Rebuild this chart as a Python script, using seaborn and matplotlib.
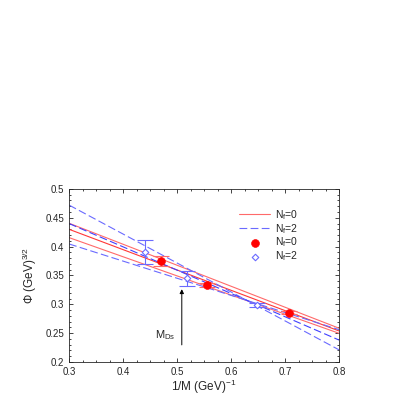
import numpy as np
import seaborn as sns
import matplotlib.pyplot as plt
from matplotlib.ticker import MultipleLocator

# fit bands: value at x=0.3 and x=0.8
fit_x = [0.3, 0.8]
nf0_fit = [[0.4405, 0.2585], [0.430, 0.2538], [0.4156, 0.2497]]
nf2_fit = [[0.472, 0.221], [0.440, 0.238], [0.4046, 0.256]]

# data points
nf0_x = [0.470, 0.556, 0.708]
nf0_y = [0.375, 0.3335, 0.2855]
nf0_err = [0.009, 0.004, 0.003]

nf2_x = [0.441, 0.519, 0.6475]
nf2_y = [0.391, 0.345, 0.299]
nf2_err = [0.021, 0.0135, 0.004]

sns.set_style("ticks")
plt.rcParams['font.family'] = ['Liberation Sans', 'DejaVu Sans']
plt.rcParams['mathtext.fontset'] = 'custom'
plt.rcParams['mathtext.rm'] = 'Liberation Sans'
plt.rcParams['mathtext.it'] = 'Liberation Sans'

fig = plt.figure(figsize=(4.09, 4.09), dpi=100)
ax = fig.add_axes([0.169, 0.115, 0.660, 0.423])

red = '#ff6a6a'
blue = '#6a6aff'
for i, f in enumerate(nf0_fit):
    sns.lineplot(x=fit_x, y=f, ax=ax, color=red if i != 1 else '#ff3838', lw=0.8,
                 label=r'N$_\mathregular{f}$=0' if i == 0 else None)
for i, f in enumerate(nf2_fit):
    sns.lineplot(x=fit_x, y=f, ax=ax, color=blue if i != 1 else '#4040ff', lw=0.8,
                 linestyle=(0, (7, 3)),
                 label=r'N$_\mathregular{f}$=2' if i == 0 else None)

ax.errorbar(nf0_x, nf0_y, yerr=nf0_err, fmt='none', ecolor=red, elinewidth=0.8,
            capsize=6, capthick=0.8)
sns.scatterplot(x=nf0_x, y=nf0_y, ax=ax, color='red', s=32, edgecolor='red',
                label=r'N$_\mathregular{f}$=0', zorder=5)
ax.errorbar(nf2_x, nf2_y, yerr=nf2_err, fmt='none', ecolor=blue, elinewidth=0.8,
            capsize=6, capthick=0.8)
sns.scatterplot(x=nf2_x, y=nf2_y, ax=ax, marker='D', s=11, facecolor='white',
                edgecolor=blue, linewidth=0.8, label=r'N$_\mathregular{f}$=2', zorder=5)

ax.annotate('', xy=(0.5087, 0.331), xytext=(0.5087, 0.2248),
            arrowprops=dict(arrowstyle='-|>', color='black', lw=0.7, mutation_scale=6))
ax.text(0.478, 0.247, r'M$_\mathregular{Ds}$', fontsize=8, ha='center', va='center')

ax.set_xlim(0.3, 0.8)
ax.set_ylim(0.2, 0.5)
ax.xaxis.set_minor_locator(MultipleLocator(0.025))
ax.yaxis.set_minor_locator(MultipleLocator(0.01))
ax.tick_params(which='both', direction='in', top=True, right=True, labelsize=7, width=0.6)
ax.tick_params(which='major', length=3)
ax.tick_params(which='minor', length=1.5)
ax.set_xticks([0.3, 0.4, 0.5, 0.6, 0.7, 0.8])
ax.set_xticklabels(['0.3', '0.4', '0.5', '0.6', '0.7', '0.8'])
ax.set_yticks([0.2, 0.25, 0.3, 0.35, 0.4, 0.45, 0.5])
ax.set_yticklabels(['0.2', '0.25', '0.3', '0.35', '0.4', '0.45', '0.5'])
for s in ax.spines.values():
    s.set_linewidth(0.6)
ax.set_xlabel(r'1/M (GeV)$^\mathregular{-1}$', fontsize=8.5, labelpad=1)
ax.set_ylabel(r'$\Phi$ (GeV)$^\mathregular{3/2}$', fontsize=8.5, labelpad=5)

ax.legend(loc='upper left', bbox_to_anchor=(0.61, 0.92), frameon=False, fontsize=7.5,
          handlelength=3.0, labelspacing=0.0, handletextpad=0.5, borderpad=0)

fig.savefig('out.png', dpi=100)
